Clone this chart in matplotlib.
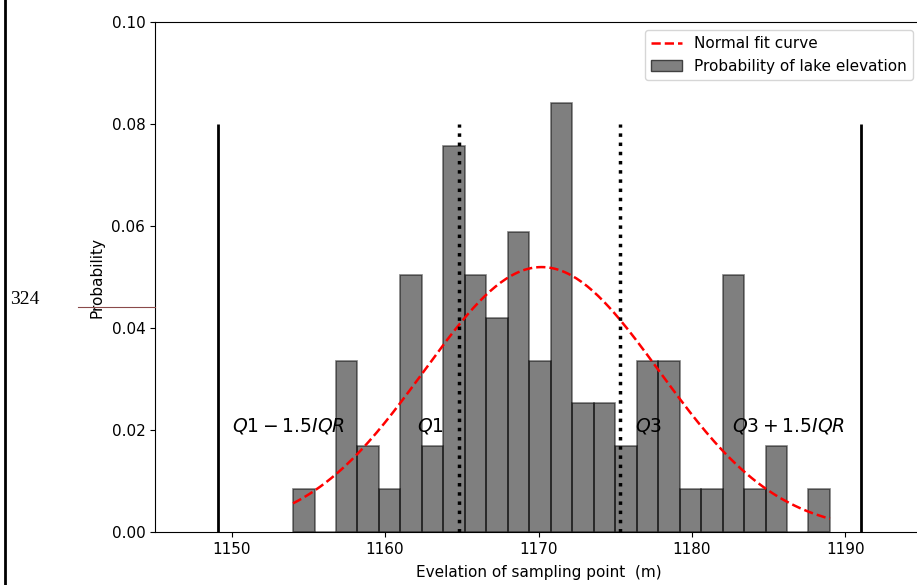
import numpy as np
import matplotlib
matplotlib.use('Agg')
import matplotlib.pyplot as plt
from matplotlib.lines import Line2D

# histogram: 25 bins of 1.4 m from 1154 to 1189, counts per bin
bin_start = 1154.0
bin_width = 1.4
counts = [1, 0, 4, 2, 1, 6, 2, 9, 6, 5, 7, 4, 10, 3, 3, 2, 4, 4, 1, 1, 6, 1, 2, 0, 1]

# normal fit parameters
fit_mean = 1170.2
fit_std = 7.68

# quartiles
q1 = 1164.82
q3 = 1175.30

edges = bin_start + bin_width * np.arange(len(counts) + 1)
centers = (edges[:-1] + edges[1:]) / 2

fig = plt.figure(figsize=(9.17, 5.85), dpi=100)
ax = fig.add_axes([155 / 917, 53 / 585, (922 - 155) / 917, (532 - 22) / 585])

ax.hist(centers, bins=edges, weights=counts, density=True, color='k', alpha=0.5,
        edgecolor='k', linewidth=1.2, label='Probability of lake elevation')

xs = np.linspace(edges[0], edges[-1], 200)
ys = np.exp(-(xs - fit_mean) ** 2 / (2 * fit_std ** 2)) / (fit_std * np.sqrt(2 * np.pi))
ax.plot(xs, ys, 'r--', linewidth=1.8, label='Normal fit curve')

iqr = q3 - q1
low = q1 - 1.5 * iqr
high = q3 + 1.5 * iqr
ax.vlines([low, high], 0, 0.08, colors='k', linewidth=2)
ax.vlines([q1, q3], 0, 0.08, colors='k', linestyles=':', linewidth=2.5)

ax.text(low + 0.9, 0.0208, r'$Q1-1.5IQR$', fontsize=13.5, va='center')
ax.text(q1 - 2.75, 0.0208, r'$Q1$', fontsize=13.5, va='center')
ax.text(q3 + 1.0, 0.0208, r'$Q3$', fontsize=13.5, va='center')
ax.text(high - 8.4, 0.0208, r'$Q3+1.5IQR$', fontsize=13.5, va='center')

ax.set_xlim(1145, 1195)
ax.set_ylim(0, 0.1)
ax.set_xticks([1150, 1160, 1170, 1180, 1190])
ax.set_yticks([0.0, 0.02, 0.04, 0.06, 0.08, 0.10])
ax.set_yticklabels(['0.00', '0.02', '0.04', '0.06', '0.08', '0.10'])
ax.tick_params(labelsize=11)
ax.set_xlabel('Evelation of sampling point  (m)', fontsize=11, labelpad=6)
ax.set_ylabel('Probability', fontsize=11, labelpad=5)

handles = [Line2D([0], [0], color='r', linestyle='--', linewidth=1.8),
           plt.Rectangle((0, 0), 1, 1, facecolor='#808080', edgecolor='#404040')]
ax.legend(handles, ['Normal fit curve', 'Probability of lake elevation'], loc='upper right',
          bbox_to_anchor=((913 - 155) / (922 - 155), 1 - 8 / 510), borderaxespad=0,
          fontsize=11)

# stray marks at the left edge of the original picture
fig.add_artist(Line2D([5 / 917, 5 / 917], [0, 1], color='k', linewidth=2))
fig.add_artist(Line2D([78 / 917, 155 / 917], [1 - 307 / 585, 1 - 307 / 585], color='#8a4a4a', linewidth=0.8))
fig.text(10 / 917, 1 - 299 / 585, '324', fontsize=14, family='Liberation Serif', va='center')

fig.savefig('out.png', dpi=100)
